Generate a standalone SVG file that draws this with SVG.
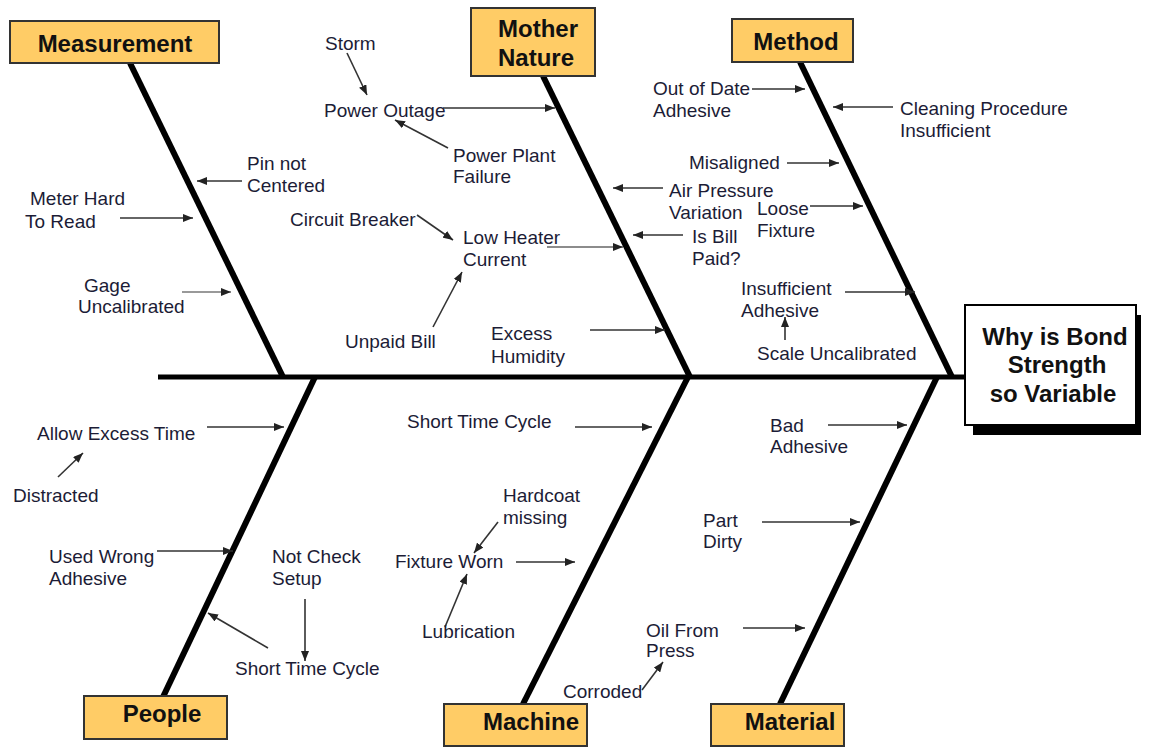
<svg xmlns="http://www.w3.org/2000/svg" width="1151" height="747" viewBox="0 0 1151 747">
<style>
.box{fill:#FFCC66;stroke:#333;stroke-width:2}
.bt{font-family:"Liberation Sans",Arial,sans-serif;font-weight:bold;font-size:24px;fill:#111}
.lb{font-family:"Liberation Sans",Arial,sans-serif;font-size:19px;fill:#1c1c36}
.bone{stroke:#000;stroke-width:6;stroke-linecap:butt;fill:none}
.ar{stroke:#333;stroke-width:1.6;fill:none;marker-end:url(#ah)}
</style>
<defs>
<marker id="ah" viewBox="0 0 10 8" refX="10" refY="4" markerWidth="10" markerHeight="8" markerUnits="userSpaceOnUse" orient="auto"><path d="M0,0 L10,4 L0,8 z" fill="#222"/></marker>
</defs>
<rect width="1151" height="747" fill="#fff"/>
<g id="skeleton">
<line class="bone" x1="158" y1="377" x2="968" y2="377" style="stroke-width:5"/>
<line class="bone" x1="130" y1="63" x2="283" y2="377"/>
<line class="bone" x1="543" y1="76" x2="690" y2="377"/>
<line class="bone" x1="800" y1="62" x2="952" y2="377"/>
<line class="bone" x1="315" y1="377" x2="163" y2="697"/>
<line class="bone" x1="688" y1="377" x2="523" y2="704"/>
<line class="bone" x1="937" y1="377" x2="780" y2="704"/>
</g>
<g id="head">
<rect x="973" y="315" width="168" height="120" fill="#000"/>
<rect x="965" y="305" width="171" height="120" fill="#fff" stroke="#000" stroke-width="2"/>
<text class="bt" text-anchor="middle"><tspan x="1055" y="345">Why is Bond</tspan><tspan x="1057" y="373">Strength</tspan><tspan x="1053" y="402">so Variable</tspan></text>
</g>
<g id="measurement"><rect class="box" x="10" y="21" width="209" height="42"/><text class="bt" x="115" y="52" text-anchor="middle">Measurement</text></g>
<g id="mother-nature"><rect class="box" x="471" y="8" width="124" height="68"/><text class="bt"><tspan x="498" y="37">Mother</tspan><tspan x="498" y="66">Nature</tspan></text></g>
<g id="method"><rect class="box" x="732" y="19" width="121" height="43"/><text class="bt" x="796" y="50" text-anchor="middle">Method</text></g>
<g id="people"><rect class="box" x="84" y="696" width="143" height="43"/><text class="bt" x="162" y="722" text-anchor="middle">People</text></g>
<g id="machine"><rect class="box" x="444" y="704" width="143" height="42"/><text class="bt" x="531" y="730" text-anchor="middle">Machine</text></g>
<g id="material"><rect class="box" x="711" y="704" width="133" height="42"/><text class="bt" x="790" y="730" text-anchor="middle">Material</text></g>

<g id="connectors">
<line class="ar" x1="347" y1="53" x2="367" y2="95"/>
<line class="ar" x1="443" y1="108" x2="555" y2="108"/>
<line class="ar" x1="448" y1="148" x2="395" y2="120"/>
<line class="ar" x1="242" y1="181" x2="197" y2="181"/>
<line class="ar" x1="120" y1="218" x2="193" y2="218"/>
<line class="ar" x1="182" y1="292" x2="231" y2="292" style="stroke:#777"/>
<line class="ar" x1="417" y1="215" x2="453" y2="240"/>
<line class="ar" x1="547" y1="247" x2="623" y2="247" style="stroke:#666"/>
<line class="ar" x1="433" y1="327" x2="462" y2="272"/>
<line class="ar" x1="590" y1="330" x2="665" y2="330"/>
<line class="ar" x1="663" y1="188" x2="613" y2="188"/>
<line class="ar" x1="683" y1="235" x2="633" y2="235"/>
<line class="ar" x1="752" y1="89" x2="805" y2="89"/>
<line class="ar" x1="893" y1="107" x2="833" y2="107"/>
<line class="ar" x1="787" y1="163" x2="839" y2="163"/>
<line class="ar" x1="810" y1="206" x2="863" y2="206"/>
<line class="ar" x1="845" y1="292" x2="915" y2="292"/>
<line class="ar" x1="785" y1="340" x2="785" y2="317"/>
<line class="ar" x1="828" y1="425" x2="907" y2="425"/>
<line class="ar" x1="762" y1="522" x2="860" y2="522"/>
<line class="ar" x1="743" y1="628" x2="805" y2="628"/>
<line class="ar" x1="642" y1="690" x2="663" y2="662"/>
<line class="ar" x1="207" y1="427" x2="284" y2="427"/>
<line class="ar" x1="58" y1="477" x2="83" y2="453"/>
<line class="ar" x1="157" y1="551" x2="233" y2="551"/>
<line class="ar" x1="305" y1="599" x2="305" y2="661"/>
<line class="ar" x1="268" y1="648" x2="208" y2="613"/>
<line class="ar" x1="575" y1="427" x2="652" y2="427"/>
<line class="ar" x1="498" y1="522" x2="474" y2="553"/>
<line class="ar" x1="516" y1="562" x2="575" y2="562"/>
<line class="ar" x1="445" y1="627" x2="467" y2="574"/>
</g>

<g id="cause-storm"><text class="lb" x="325" y="50">Storm</text></g>
<g id="cause-power-outage"><text class="lb" x="324" y="117">Power Outage</text></g>
<g id="cause-power-plant"><text class="lb"><tspan x="453" y="162">Power Plant</tspan><tspan x="453" y="183">Failure</tspan></text></g>
<g id="cause-pin"><text class="lb"><tspan x="247" y="170">Pin not</tspan><tspan x="247" y="192">Centered</tspan></text></g>
<g id="cause-meter"><text class="lb"><tspan x="30" y="205">Meter Hard</tspan><tspan x="25" y="228">To Read</tspan></text></g>
<g id="cause-gage"><text class="lb"><tspan x="84" y="292">Gage</tspan><tspan x="78" y="313">Uncalibrated</tspan></text></g>
<g id="cause-circuit"><text class="lb" x="290" y="226">Circuit Breaker</text></g>
<g id="cause-low-heater"><text class="lb"><tspan x="463" y="244">Low Heater</tspan><tspan x="463" y="266">Current</tspan></text></g>
<g id="cause-unpaid"><text class="lb" x="345" y="348">Unpaid Bill</text></g>
<g id="cause-humidity"><text class="lb"><tspan x="491" y="340">Excess</tspan><tspan x="491" y="363">Humidity</tspan></text></g>
<g id="cause-air"><text class="lb"><tspan x="669" y="197">Air Pressure</tspan><tspan x="669" y="219">Variation</tspan></text></g>
<g id="cause-bill"><text class="lb"><tspan x="692" y="243">Is Bill</tspan><tspan x="692" y="265">Paid?</tspan></text></g>
<g id="cause-out-of-date"><text class="lb"><tspan x="653" y="95">Out of Date</tspan><tspan x="653" y="117">Adhesive</tspan></text></g>
<g id="cause-cleaning"><text class="lb"><tspan x="900" y="115">Cleaning Procedure</tspan><tspan x="900" y="137">Insufficient</tspan></text></g>
<g id="cause-misaligned"><text class="lb" x="689" y="169">Misaligned</text></g>
<g id="cause-loose"><text class="lb"><tspan x="757" y="215">Loose</tspan><tspan x="757" y="237">Fixture</tspan></text></g>
<g id="cause-insufficient"><text class="lb"><tspan x="741" y="295">Insufficient</tspan><tspan x="741" y="317">Adhesive</tspan></text></g>
<g id="cause-scale"><text class="lb" x="757" y="360">Scale Uncalibrated</text></g>
<g id="cause-allow"><text class="lb" x="37" y="440">Allow Excess Time</text></g>
<g id="cause-distracted"><text class="lb" x="13" y="502">Distracted</text></g>
<g id="cause-wrong"><text class="lb"><tspan x="49" y="563">Used Wrong</tspan><tspan x="49" y="585">Adhesive</tspan></text></g>
<g id="cause-not-check"><text class="lb"><tspan x="272" y="563">Not Check</tspan><tspan x="272" y="585">Setup</tspan></text></g>
<g id="cause-short-people"><text class="lb" x="235" y="675">Short Time Cycle</text></g>
<g id="cause-short-machine"><text class="lb" x="407" y="428">Short Time Cycle</text></g>
<g id="cause-hardcoat"><text class="lb"><tspan x="503" y="502">Hardcoat</tspan><tspan x="503" y="524">missing</tspan></text></g>
<g id="cause-fixture-worn"><text class="lb" x="395" y="568">Fixture Worn</text></g>
<g id="cause-lubrication"><text class="lb" x="422" y="638">Lubrication</text></g>
<g id="cause-corroded"><text class="lb" x="563" y="698">Corroded</text></g>
<g id="cause-bad-adhesive"><text class="lb"><tspan x="770" y="432">Bad</tspan><tspan x="770" y="453">Adhesive</tspan></text></g>
<g id="cause-part"><text class="lb"><tspan x="703" y="527">Part</tspan><tspan x="703" y="548">Dirty</tspan></text></g>
<g id="cause-oil"><text class="lb"><tspan x="646" y="637">Oil From</tspan><tspan x="646" y="657">Press</tspan></text></g>
</svg>
